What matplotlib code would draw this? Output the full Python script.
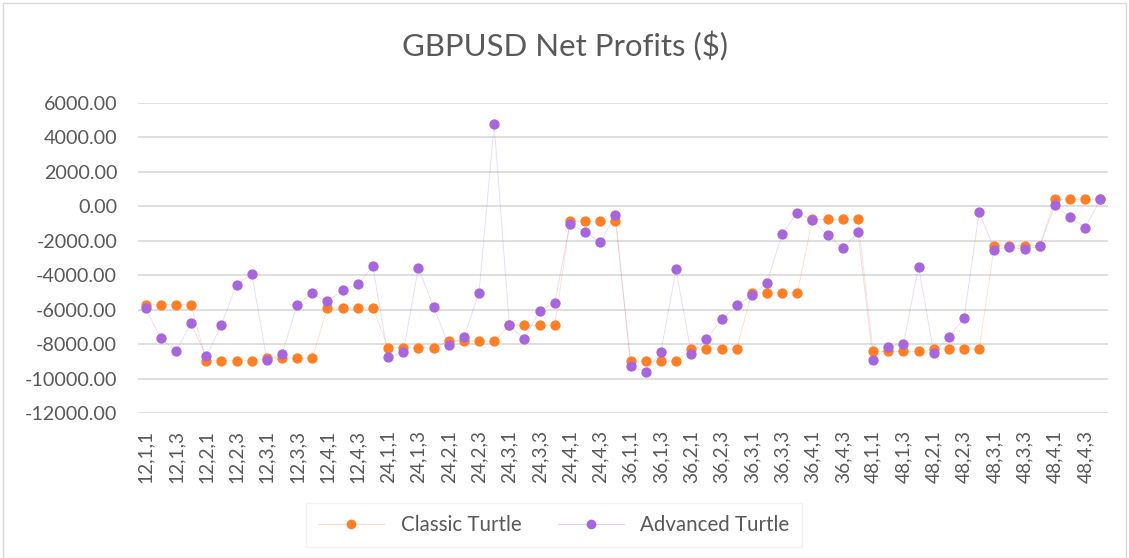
import matplotlib
matplotlib.use("Agg")
import matplotlib.pyplot as plt
from matplotlib.colors import to_rgba
from matplotlib.patches import Rectangle

# categories: period, entry, exit combos
periods = [12, 24, 36, 48]
entries = [1, 2, 3, 4]
exits = [1, 2, 3, 4]
categories = [f"{p},{e},{x}" for p in periods for e in entries for x in exits]

classic = [
    -5720, -5720, -5720, -5720, -8970, -8970, -8970, -8970,
    -8810, -8810, -8810, -8810, -5910, -5910, -5910, -5910,
    -8210, -8210, -8210, -8210, -7830, -7830, -7830, -7830,
    -6920, -6920, -6920, -6920, -890, -890, -890, -890,
    -8990, -8990, -8990, -8990, -8290, -8290, -8290, -8290,
    -5020, -5020, -5020, -5020, -770, -770, -770, -770,
    -8430, -8430, -8430, -8430, -8290, -8290, -8290, -8290,
    -2300, -2300, -2300, -2300, 390, 390, 390, 390,
]
advanced = [
    -5910, -7670, -8410, -6800, -8700, -6900, -4560, -3920,
    -8910, -8600, -5720, -5060, -5530, -4870, -4520, -3500,
    -8770, -8480, -3560, -5870, -8040, -7610, -5020, 4750,
    -6920, -7690, -6070, -5600, -1020, -1510, -2090, -500,
    -9280, -9620, -8460, -3670, -8560, -7730, -6570, -5760,
    -5180, -4440, -1590, -390, -810, -1700, -2450, -1510,
    -8910, -8170, -8000, -3520, -8500, -7580, -6490, -350,
    -2530, -2360, -2510, -2320, 60, -640, -1240, 390,
]
yticks = list(range(-12000, 6001, 2000))

orange = "#FF7F27"
purple = "#A866DC"
gray = "#595959"

plt.rcParams["font.family"] = ["Lato", "DejaVu Sans"]

fig = plt.figure(figsize=(11.29, 5.58), dpi=100)
ax = fig.add_axes([138 / 1129, 1 - 413 / 558, 970 / 1129, 310.3 / 558])

xs = range(len(categories))
ax.plot(xs, classic, color=orange, lw=0.6, alpha=0.25, zorder=2)
ax.plot(xs, advanced, color=purple, lw=0.6, alpha=0.25, zorder=2)
ax.scatter(xs, classic, s=55, color=orange, zorder=3, linewidths=0)
ax.scatter(xs, advanced, s=55, color=purple, zorder=4, linewidths=0)

ax.set_xlim(-0.5, len(categories) - 0.5)
ax.set_ylim(-12000, 6000)
ax.set_yticks(yticks)
ax.set_yticklabels([f"{v:.2f}" for v in yticks], color=gray, fontsize=14.2)
ax.set_xticks(list(xs)[::2])
ax.set_xticklabels(categories[::2], rotation=90, color=gray, fontsize=13.8)
ax.tick_params(axis="both", length=0)
ax.tick_params(axis="y", pad=15)
ax.tick_params(axis="x", pad=12)
ax.grid(axis="y", color="#D9D9D9", lw=1.2)
ax.set_axisbelow(True)
for s in ax.spines.values():
    s.set_visible(False)

fig.text(0.5, 1 - 46 / 558, "GBPUSD Net Profits ($)", ha="center",
         va="center", fontsize=22.4, color=gray)

# legend handles: faint line, solid dot
h1, = ax.plot([], [], color=to_rgba(orange, 0.3), lw=0.8, marker="o", ms=7,
              mfc=orange, mec="none")
h2, = ax.plot([], [], color=to_rgba(purple, 0.3), lw=0.8, marker="o", ms=7,
              mfc=purple, mec="none")
leg = fig.legend([h1, h2], ["Classic Turtle", "Advanced Turtle"], ncol=2,
                 loc="center", bbox_to_anchor=(554 / 1129, 1 - 525 / 558),
                 frameon=True, fontsize=14.8, labelcolor=gray,
                 handlelength=3.2, columnspacing=1.8, fancybox=False,
                 borderpad=0.6, borderaxespad=0)
leg.get_frame().set_edgecolor("#EFEFEF")

fig.patches.append(Rectangle((3 / 1129, 0), 1 - 6 / 1129, 1 - 3 / 558,
                             transform=fig.transFigure, fill=False,
                             edgecolor="#D9D9D9", lw=1))

fig.savefig("out.png", dpi=100)
